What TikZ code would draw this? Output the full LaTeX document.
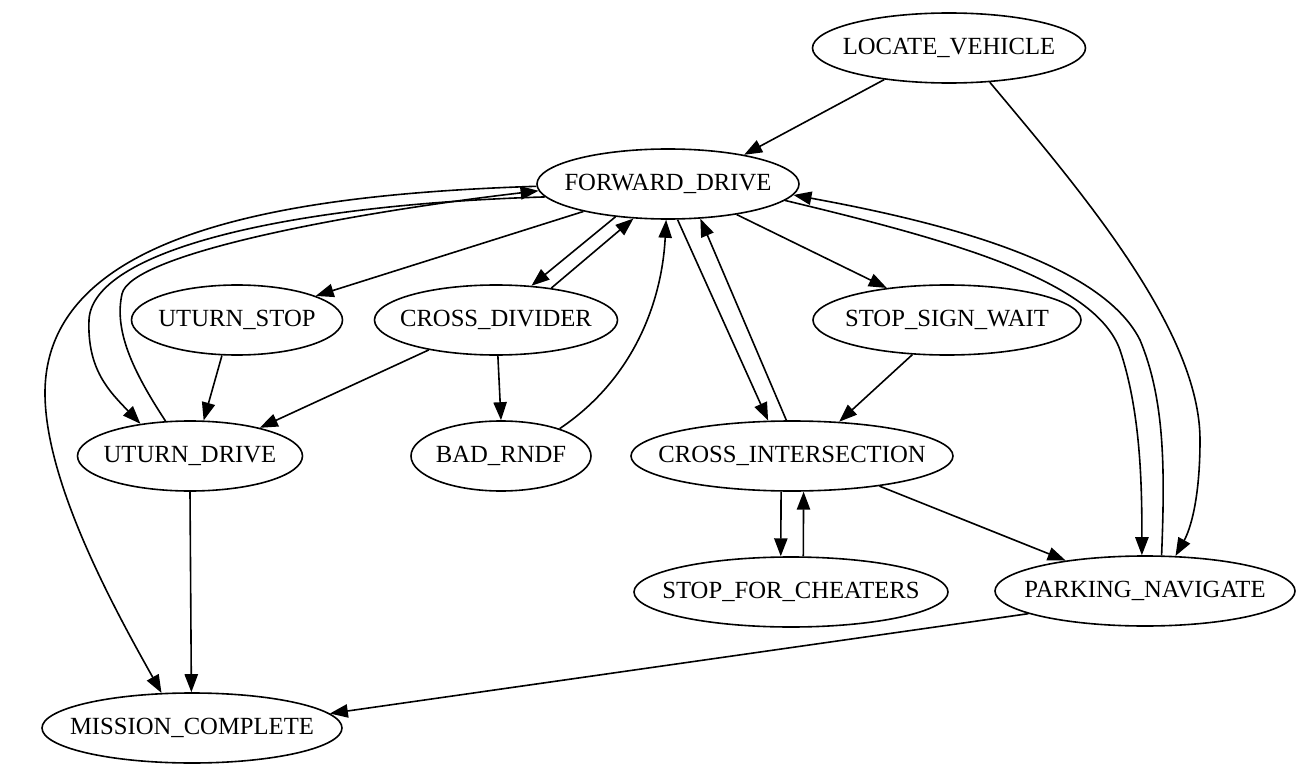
\documentclass[tikz,border=0pt]{standalone}
\usepackage{fontspec}
\setmainfont{Liberation Serif}
\usetikzlibrary{shapes.geometric,arrows.meta}
\begin{document}
\begin{tikzpicture}[x=0.75pt,y=-0.75pt,
  st/.style={ellipse,draw,line width=1.2pt,inner sep=0pt,minimum height=52.5pt,font=\fontsize{18.5}{22}\selectfont},
  edge/.style={line width=1.2pt,-{Triangle[length=13.5pt,width=10pt]}}]
\useasboundingbox (0,0) rectangle (1311,774);
\node[st,minimum width=204.75pt] (LV)  at (949,48)  {\makebox[0pt]{LOCATE\_VEHICLE}};
\node[st,minimum width=196.5pt]  (FD)  at (668,184) {\makebox[0pt]{FORWARD\_DRIVE}};
\node[st,minimum width=158.25pt] (US)  at (237,320) {\makebox[0pt]{UTURN\_STOP}};
\node[st,minimum width=182.25pt] (CD)  at (496,320) {\makebox[0pt]{CROSS\_DIVIDER}};
\node[st,minimum width=201pt]    (SSW) at (947,320) {\makebox[0pt]{STOP\_SIGN\_WAIT}};
\node[st,minimum width=168.75pt] (UD)  at (190,456) {\makebox[0pt]{UTURN\_DRIVE}};
\node[st,minimum width=135pt]    (BR)  at (501,456) {\makebox[0pt]{BAD\_RNDF}};
\node[st,minimum width=241.5pt]  (CI)  at (792,456) {\makebox[0pt]{CROSS\_INTERSECTION}};
\node[st,minimum width=235.5pt]  (SFC) at (791,592) {\makebox[0pt]{STOP\_FOR\_CHEATERS}};
\node[st,minimum width=225pt]    (PN)  at (1145,591) {\makebox[0pt]{PARKING\_NAVIGATE}};
\node[st,minimum width=225pt]    (MC)  at (192,728) {\makebox[0pt]{MISSION\_COMPLETE}};

\draw[edge] (LV.-154.6) -- (FD.21.1);
\draw[edge] (LV.-40.7) .. controls (1080,190) and (1200,330) .. (1200,440) .. controls (1200,500) and (1190,530) .. (PN.49);
\draw[edge] (FD.198) -- (US.17.7);
\draw[edge] (FD.-148.3) -- (CD.44.7);
\draw[edge] (CD.30.2) -- (FD.-135.2);
\draw[edge] (FD.-24.8) -- (SSW.152.9);
\draw[edge] (FD.-75.6) -- (CI.124.7);
\draw[edge] (CI.99.7) -- (FD.-47.6);
\draw[edge] (FD.186) .. controls (280,205) and (92,252) .. (89,320) .. controls (87,370) and (110,392) .. (UD.147.3);
\draw[edge] (UD.125) .. controls (132,370) and (114,330) .. (122,294) .. controls (130,255) and (340,214) .. (FD.183.5);
\draw[edge] (FD.181) .. controls (300,194) and (45,228) .. (45,393) .. controls (45,483) and (115,610) .. (MC.131.2);
\draw[edge] (BR.25.4) .. controls (635,378) and (662,300) .. (FD.-93);
\draw[edge] (US.-113.4) -- (UD.69.5);
\draw[edge] (CD.-156.9) -- (UD.22);
\draw[edge] (CD.-87) -- (BR.90);
\draw[edge] (SSW.-135.1) -- (CI.36);
\draw[edge] (CI.-107.4) -- (SFC.106);
\draw[edge] (SFC.71.5) -- (CI.-72.6);
\draw[edge] (CI.-19.9) -- (PN.159);
\draw[edge] (FD.-8) .. controls (950,240) and (1095,280) .. (1120,350) .. controls (1140,410) and (1142,480) .. (PN.95);
\draw[edge] (PN.65.3) .. controls (1165,470) and (1165,400) .. (1140,340) .. controls (1100,260) and (930,220) .. (FD.-5.2);
\draw[edge] (PN.-169.2) -- (MC.6.2);
\draw[edge] (UD.-90) -- (MC.91);
\end{tikzpicture}
\end{document}
